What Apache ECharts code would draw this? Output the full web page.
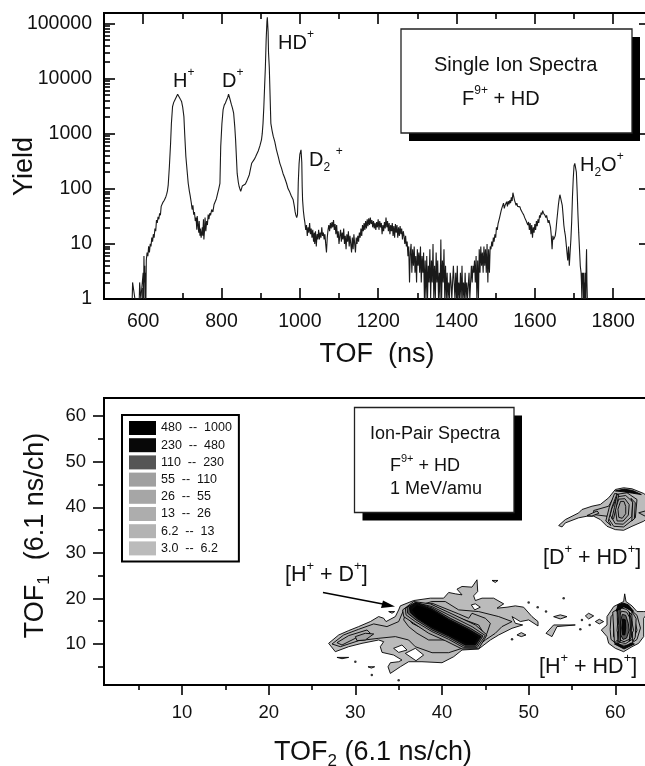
<!DOCTYPE html>
<html><head><meta charset="utf-8">
<script src="https://cdn.jsdelivr.net/npm/echarts@6/dist/echarts.min.js"></script>
<style>html,body{margin:0;padding:0;background:#fff}#c{width:645px;height:766px}</style>
</head><body><div id="c"></div>
<script>
// ---- Single ion spectrum (TOF ns, yield) ----
const tailRise = [[572,1],[573,2],[578,2],[579,1],[590,1],[591,2],[593,2],[594,1],[598,1],[600,3],[601,1],[602,6],[603,2],[604,4],[605,1],[606,3],[607,1],[608,5],[610,7],[612,6],[614,9],[616,7],[618,10],[620,9],[622,13],[624,11],[626,15],[628,13],[630,19],[632,17],[634,27],[636,24],[638,31],[640,28],[642,36],[644,33],[646,48],[648,52],[650,56],[652,54],[654,62],[656,66],[658,72],[660,80],[662,92]];
const peakHplus = [[664,118],[667,260],[670,670],[672,1500],[675,3090],[678,3700],[681,4100],[684,4400],[688,5200],[691,4800],[695,4200],[698,3850],[701,3000],[704,2040],[706,1000],[709,385],[712,220],[715,126],[718,90],[720,75],[723,55]];
const valleyHD = [[725,42],[727,50],[729,34],[731,38],[733,26],[735,30],[737,18],[738,32],[740,22],[742,16],[743,26],[745,14],[746,19],[748,13],[749,12],[751,20],[752,14],[754,28],[755,12],[757,19],[758,30],[760,17],[762,26],[764,22],[766,34],[768,28],[770,36],[772,33],[775,42],[778,38],[781,52],[784,50],[787,66],[790,82],[793,100],[796,126]];
const peakDplus = [[798,580],[801,1500],[804,2700],[807,3300],[810,3600],[813,4100],[816,4600],[818,5200],[821,4400],[825,3430],[828,2900],[831,2350],[834,1300],[836,770],[838,380],[840,190],[843,130],[845,110]];
const peakHDplus = [[847,102],[849,90],[851,100],[853,112],[855,105],[858,118],[861,122],[864,135],[868,145],[871,180],[874,230],[877,290],[880,310],[884,345],[887,380],[890,410],[894,490],[898,600],[902,770],[904,1000],[906,1540],[908,3000],[910,7000],[912,16000],[914,50000],[916,110000],[917,130000],[919,70000],[920,30000],[922,16000],[924,5000],[926,1540],[929,1150],[932,900],[936,720],[940,520],[945,380],[949,290],[953,240],[957,190],[961,160],[966,126],[970,100],[974,88],[978,75],[983,63],[986,48],[988,38],[990,33],[992,30],[994,34]];
const peakD2plus = [[995,60],[996,130],[998,280],[1000,420],[1003,510],[1005,300],[1006,110],[1007,63],[1009,40],[1011,30],[1013,24]];
const plateau = [[1015,18],[1017,22],[1019,14],[1021,20],[1023,16],[1025,24],[1027,15],[1029,19],[1031,13],[1033,18],[1035,11],[1037,16],[1038,10],[1040,17],[1042,9],[1044,15],[1046,12],[1048,18],[1050,12],[1052,16],[1054,13],[1056,20],[1058,14],[1060,16],[1062,12],[1064,15],[1066,10],[1068,7],[1070,13],[1072,18],[1074,22],[1076,17],[1078,24],[1080,19],[1082,25],[1084,20],[1086,27],[1088,18],[1090,23],[1092,15],[1094,22],[1096,13],[1098,17],[1100,10],[1102,14],[1104,18],[1106,11],[1108,16],[1110,12],[1112,19],[1114,10],[1116,14],[1118,8],[1120,15],[1122,11],[1124,17],[1126,9],[1128,14],[1130,10],[1132,7],[1134,13],[1136,8],[1138,15],[1140,10],[1142,7],[1144,13],[1146,10],[1148,14],[1150,11],[1152,16],[1154,13],[1156,19],[1158,14],[1160,22],[1162,17],[1164,24],[1166,18],[1168,26],[1170,19],[1172,28],[1174,21],[1176,29],[1178,22],[1180,30],[1182,23],[1184,27],[1186,20],[1188,26],[1190,19],[1192,24],[1194,18],[1196,25],[1198,20],[1200,28],[1202,18],[1204,26],[1206,20],[1208,24],[1210,15],[1212,22],[1214,17],[1216,25],[1218,19],[1220,30],[1222,20],[1224,26],[1226,17],[1228,24],[1230,15],[1232,22],[1234,17],[1236,24],[1238,14],[1240,21],[1242,13],[1244,23],[1246,16],[1248,22],[1250,13],[1252,20],[1254,14],[1256,21],[1258,15],[1260,19],[1262,12],[1264,17],[1266,14],[1268,10],[1270,14],[1272,9],[1274,11],[1276,6],[1278,9]];
const lowCounts = [[1280,2],[1282,7],[1284,10],[1286,3],[1288,8],[1290,4],[1292,9],[1294,3],[1296,6],[1298,2],[1300,8],[1302,4],[1304,7],[1306,3],[1308,9],[1310,2],[1312,6],[1314,3],[1316,7],[1318,1],[1320,5],[1322,1],[1324,6],[1326,1],[1328,4],[1330,2],[1332,8],[1334,1],[1336,5],[1338,2],[1340,10],[1342,1],[1344,4],[1346,1],[1348,7],[1350,2],[1352,5],[1354,1],[1356,3],[1358,1],[1360,12],[1362,1],[1364,5],[1366,2],[1368,8],[1370,1],[1372,4],[1374,1],[1376,3],[1378,1],[1380,2],[1382,1],[1384,3],[1386,2],[1388,1],[1390,1],[1392,4],[1394,2],[1396,1],[1398,3],[1400,1],[1402,4],[1404,1],[1406,2],[1408,1],[1410,3],[1412,1],[1414,4],[1416,1],[1418,2],[1420,1],[1422,3],[1424,1],[1426,2],[1428,1],[1430,1],[1432,3],[1434,1],[1436,2],[1438,4],[1440,2],[1442,4],[1444,3],[1446,5],[1448,2],[1450,6],[1452,1],[1454,5],[1456,1],[1458,8],[1460,3],[1462,9],[1464,4],[1466,7],[1468,3],[1470,9],[1472,4],[1474,8],[1476,3],[1478,10],[1480,2],[1482,8],[1484,3],[1486,9]];
const bumpHigh = [[1488,8],[1490,11],[1492,9],[1494,13],[1496,11],[1498,15],[1500,13],[1502,20],[1504,18],[1506,23],[1508,22],[1510,30],[1512,28],[1514,40],[1516,45],[1518,42],[1520,55],[1522,44],[1524,50],[1526,46],[1528,58],[1530,48],[1532,60],[1534,52],[1536,62],[1538,55],[1540,70],[1542,60],[1544,85],[1546,80],[1548,62],[1550,56],[1552,50],[1554,55],[1556,48],[1558,52],[1560,46],[1562,47],[1564,42],[1566,40],[1568,37],[1570,40],[1572,33],[1574,30],[1576,32],[1578,26],[1580,28],[1582,22],[1584,25],[1586,18],[1588,24],[1590,15],[1592,22],[1594,13],[1596,20],[1598,16],[1600,23],[1602,18],[1604,26],[1606,21],[1608,28],[1610,24],[1612,33],[1614,30],[1616,37],[1618,34],[1620,40],[1622,36],[1624,38],[1626,33],[1628,30],[1630,33],[1632,28],[1634,24],[1636,27],[1638,26],[1640,20],[1642,14],[1644,8],[1646,14],[1648,12],[1650,12],[1652,14]];
const peakH2O = [[1654,18],[1656,26],[1658,36],[1660,50],[1662,65],[1664,78],[1666,83],[1668,72],[1670,50],[1672,34],[1674,22],[1676,17],[1678,14],[1680,10],[1682,7],[1684,5],[1686,9],[1688,4],[1690,7],[1692,12],[1694,25],[1696,70],[1698,150],[1700,260],[1702,290],[1704,280],[1706,200],[1708,90],[1710,35],[1712,16],[1714,8],[1716,4],[1718,3],[1719,2],[1720,1],[1721,3],[1722,2],[1723,3],[1724,1],[1725,3],[1726,1],[1727,2],[1728,1],[1729,3],[1730,1],[1731,4],[1732,8],[1733,2],[1734,1]];

const tofMajorTicks = [600,800,1000,1200,1400,1600,1800];
const tofMinorTicks = [700,900,1100,1300,1500,1700];
const yieldMajorTicks = [1,10,100,1000,10000,100000];
const yieldMinorTicks = [2,3,4,5,6,7,8,9,20,30,40,50,60,70,80,90,200,300,400,500,600,700,800,900,2000,3000,4000,5000,6000,7000,8000,9000,20000,30000,40000,50000,60000,70000,80000,90000];

// ---- Ion pair map (TOF2 channel, TOF1 channel) ----
const tof2MajorTicks = [10,20,30,40,50,60];
const tof2MinorTicks = [5,15,25,35,45,55];
const tof1MajorTicks = [10,20,30,40,50,60];
const tof1MinorTicks = [5,15,25,35,45,55];

const levelNames = ['3.0  --  6.2','6.2  --  13','13  --  26','26  --  55','55  --  110','110  --  230','230  --  480','480  --  1000'];
const levelColors = ['#bbbbbb','#b3b3b3','#adadad','#a6a6a6','#a0a0a0','#555555','#080808','#000000'];

const level1 = [
 [[26.92,10.15],[28.08,11.98],[29.23,12.94],[30.38,13.82],[31.73,14.92],[32.69,16.02],[33.27,15.65],[33.54,14.92],[34.62,16.02],[35,17.49],[35.19,18.37],[36.73,19.54],[38.65,20.06],[40.19,20.06],[40.77,21.31],[41.54,21.01],[42.31,20.79],[41.73,22.04],[42.31,22.63],[43.46,22.48],[44.04,24.1],[44.12,21.53],[43.65,20.57],[43.85,19.54],[44.62,20.06],[45.96,20.06],[47.12,18.81],[46.35,17.86],[47.5,18.08],[48.46,18.37],[49.42,18.08],[50.38,16.02],[51.08,14.92],[51.08,13.96],[50,15.29],[49.04,14.92],[48.08,16.02],[48.46,14.55],[49.31,14.18],[48.08,13.45],[46.54,11.98],[45.58,10.88],[44.23,8.9],[42.31,8.68],[41.35,7.21],[40,5.89],[37.69,6.11],[36.15,6.11],[35.19,5],[34.04,3.54],[33.77,5],[34.04,5.89],[35,6.11],[35.38,6.48],[34.42,7.58],[33.08,8.16],[32.88,9.41],[33.27,10.51],[32.69,10.88],[30.77,10.15],[29.23,9.41],[27.69,8.31]],
 [[53.46,36],[54.23,37.31],[55.77,38.78],[56.15,39.52],[57.31,40.25],[58.27,40.63],[59.23,42.09],[60,43.92],[60.96,44.29],[61.92,44.07],[63.27,43.04],[64,42],[64,38],[63.27,36.95],[61.92,35.84],[60.96,34.96],[60,35.11],[59.04,35.84],[58.27,37.31],[57.5,38.05],[56.73,38.05],[55.77,37.7],[54.23,36.58],[53.85,35.7]],
 [[60.96,19.32],[61.08,21.01],[61.23,19.32],[61.92,18.37],[62.5,17.12],[63.27,17.12],[63.85,17.12],[63.27,15.65],[63.27,11.62],[62.69,10.15],[61.92,9.41],[60.96,8.31],[60,9.05],[59.23,10.15],[59.04,11.62],[58.38,13.08],[59.04,14.18],[59.04,16.02],[59.81,18.22]],
 [[52.88,16],[53.65,16.4],[54.42,16],[53.65,15.5]],
 [[56.54,16.17],[56.92,16.75],[57.5,16.17],[56.92,15.5]],
 [[57.69,14.92],[58.15,15.43],[58.65,14.92],[58.15,14.41]],
 [[52,12.35],[52.88,14.18],[55.38,14.18],[53.27,13.82],[52.69,11.62]],
 [[48.65,11.98],[49.15,12.5],[49.69,11.98],[49.15,11.62]],
 [[45.77,23.95],[46.46,23.95],[46.15,23.51]],
 [[27.88,7.06],[29.23,7.06],[28.46,6.77]],
 [[31.46,5],[32.23,5],[31.85,4.71]],
 [[33.85,17.12],[34.54,17.12],[34.23,16.75]]
];
const level2 = [
 [[27.31,10],[28.65,11.98],[30.38,13.23],[32.12,14.41],[33.65,13.82],[35,14.92],[35.58,17.49],[38.85,19.32],[40.38,19.32],[41.92,17.49],[44.23,17.12],[46.54,16.02],[48.08,14.92],[46.92,13.82],[46.15,12.35],[45,10.88],[43.85,9.05],[42.31,9.05],[40.77,8.09],[38.85,8.09],[36.92,9.41],[36.15,10.88],[34.62,11.62],[32.69,11.25],[30.38,10.73],[28.27,9.41]],
 [[57.5,39.3],[59.23,40.25],[60,42.82],[61.35,43.19],[62.5,41.72],[62.31,37.7],[60.96,35.7],[59.81,35.84],[59.04,38.05],[57.5,38.41]],
 [[56.73,38.2],[57.9,39.2],[58.1,38.7],[57.3,38.1]],
 [[60.5,18.3],[61.5,18],[62.5,16.3],[62.9,13.5],[62.5,11],[61.5,9.7],[60.3,9.8],[59.5,11],[59.4,13.2],[59.5,16]]
];
const level3 = [
 [[27.88,10.29],[29.23,11.84],[31.35,13.08],[31.73,12.35],[30,11.25],[28.46,9.78]],
 [[35.58,15.29],[35.77,16.75],[38.85,18.96],[41.92,16.61],[43.08,15.65],[43.46,16.75],[45,15.65],[45.58,14.55],[45.19,12.35],[44.42,10.51],[42.69,9.78],[40.38,10.88],[38.46,10.88],[37.12,12.35],[36.15,13.82]],
 [[59.6,39.7],[60.2,42.3],[61.2,42.6],[62,41.2],[61.9,38],[60.9,36.3],[60,36.4],[59.4,38.3]],
 [[58.9,37],[59.3,40],[59.9,43],[60.2,43],[59.6,40],[59.2,37],[59.5,36]],
 [[62.7,38.8],[64,39.5],[64,37.5]],
 [[60.7,17.9],[61.3,17.6],[62.2,15.8],[62.5,13],[62.1,11.2],[61.2,10.1],[60.4,10.4],[59.8,11.6],[59.8,14],[60,16.2]]
];
const level4 = [
 [[30,11.62],[31.15,12.35],[32.12,12.2],[31.15,10.88],[30.19,10.73]],
 [[35.96,16.02],[38.85,18.59],[41.54,16.02],[44.23,14.18],[44.81,12.35],[43.08,9.78],[40.77,11.62],[38.08,13.08],[36.54,14.55]],
 [[60,39.6],[60.4,41.8],[61.1,41.9],[61.6,40.6],[61.5,38.3],[60.9,37],[60.2,37]],
 [[59.7,17],[60.2,17.6],[60.3,11],[59.9,10.2]],
 [[61.9,17.2],[62.4,15.6],[62.3,11.5],[62,10.5]]
];
const level5 = [
 [[35.46,17.49],[36.73,19.32],[38.65,18.81],[41.15,16.61],[43.85,14.18],[45.19,11.98],[44.23,8.97],[42.31,8.9],[40.38,10.73],[38.46,12.35],[36.73,14.55],[35.58,16.02]],
 [[35.77,17.86],[36.92,19.1],[38.85,18.22],[41.15,16.02],[43.46,13.82],[45,11.84],[44.04,9.19],[42.5,9.19],[40.77,11.03],[38.85,12.72],[36.92,14.92],[35.85,16.39]],
 [[60.3,39.6],[60.6,41.3],[61,41.3],[61.2,40.2],[61.2,38.6],[60.8,37.6],[60.4,37.8]],
 [[59.6,37.5],[59.9,40],[60.2,42.8],[60.4,42.8],[60.1,40],[59.8,37.5]],
 [[61.8,42],[62.3,41],[62.2,37.5],[61.9,37],[62,41]],
 [[60.7,17.2],[61.3,17],[61.9,15],[62.1,13],[61.6,11],[61,10.5],[60.4,11],[60.2,13],[60.3,15.5]]
];
const level6 = [
 [[35.96,18.08],[37,19.1],[38.85,17.93],[40.96,15.65],[43.27,13.45],[44.73,11.76],[43.96,9.49],[42.58,9.49],[40.77,11.4],[38.85,13.08],[37,15.29],[36.04,16.75]],
 [[60.8,16.5],[61.2,16.3],[61.5,14.5],[61.6,13],[61.3,11.3],[60.9,11],[60.6,12],[60.5,14]],
 [[60.25,17.5],[60.55,17.8],[60.6,10.6],[60.3,10.4],[60.4,14]],
 [[61.6,17],[61.85,15.5],[61.85,11.5],[61.6,10.6],[61.75,13.5]]
];
const level7 = [
 [[36.23,18.08],[37,18.96],[38.85,17.64],[40.77,15.43],[43.08,13.23],[44.5,11.62],[43.85,9.78],[42.69,9.78],[40.77,11.76],[38.85,13.45],[37.12,15.58],[36.35,16.9]],
 [[60.85,15.5],[61.15,15.3],[61.2,13.5],[61.1,12],[60.85,12],[60.75,13.5]],
 [[60.3,18.6],[60.9,19],[61.5,18.6],[62.1,17.2],[61.9,17.2],[61,18.2],[60.1,17.2]],
 [[59.9,10],[61,8.9],[62.2,10],[61.8,10.2],[61,9.4],[60.2,10.3]],
 [[60,43.6],[61,44],[62,43.7],[63,42.8],[62,43.1],[61,43.4]]
];
const level8 = [
 [[36.6,17.5],[37.1,18.4],[38.9,17.2],[40.8,15],[43,12.9],[44.1,11.5],[43.7,10.1],[42.8,10.2],[40.8,12.1],[38.9,13.8],[37.2,15.8]]
];
const emptyCells = [
 [[34.42,9.05],[35.38,9.78],[35.96,8.68],[35,8.16]],
 [[35.77,7.94],[36.92,9.05],[37.88,7.58],[37,6.33]],
 [[43.38,18.59],[43.85,18.81],[44.42,18.08],[43.77,17.49]]
];
const isolatedCounts = [[30,6.1],[31.9,3.2],[35,2.07],[54.04,20.06],[50,19.1],[51.04,18.08],[52,17.12],[48.08,11.03],[56.15,15.29],[55.96,13.23],[57.04,14.18]];

const FONT = '"Liberation Sans", Arial, sans-serif';
const spectrum = [].concat(tailRise,peakHplus,valleyHD,peakDplus,peakHDplus,peakD2plus,plateau,lowCounts,bumpHigh,peakH2O);
const levels = [level1,level2,level3,level4,level5,level6,level7,level8];

function rich(size){
  const sup = Math.round(size*0.62);
  return {
    n:{fontSize:size,fontFamily:FONT,lineHeight:size+8,fill:'#111',color:'#111'},
    u:{fontSize:sup,fontFamily:FONT,lineHeight:sup,verticalAlign:'top',color:'#111',fill:'#111'},
    d:{fontSize:sup,fontFamily:FONT,lineHeight:sup,verticalAlign:'bottom',color:'#111',fill:'#111'}
  };
}
function label(x,y,text,size){
  return {type:'text',x:x,y:y,z:101,style:{text:text,rich:rich(size),fill:'#111',font:size+'px '+FONT}};
}
function box(l,t,r,b,off){
  return [
    {type:'rect',z:99,shape:{x:l+off,y:t+off,width:r-l,height:b-t},style:{fill:'#000'}},
    {type:'rect',z:100,shape:{x:l,y:t,width:r-l,height:b-t},style:{fill:'#fff',stroke:'#222',lineWidth:1.3}}
  ];
}
const plain = v=>String(Math.round(v));
function xAxis(gridIndex,pos,min,max,ticks,len,inside,labels,extra){
  return Object.assign({type:'value',gridIndex,position:pos,min,max,scale:true,splitLine:{show:false},
    axisLine:{show:false},
    axisTick:{show:true,inside,length:len,customValues:ticks,lineStyle:{color:'#000',width:1.6}},
    axisLabel:labels?{show:true,customValues:labels.values,margin:labels.margin,fontSize:labels.size,fontFamily:FONT,color:'#111',formatter:plain,hideOverlap:false}:{show:false}},extra||{});
}
function yAxis(gridIndex,pos,type,min,max,ticks,len,inside,labels,extra){
  return Object.assign({type,gridIndex,position:pos,min,max,splitLine:{show:false},
    axisLine:{show:false},
    axisTick:{show:true,inside,length:len,customValues:ticks,lineStyle:{color:'#000',width:1.6}},
    axisLabel:labels?{show:true,customValues:labels.values,margin:labels.margin,fontSize:labels.size,fontFamily:FONT,color:'#111',formatter:plain,hideOverlap:false}:{show:false}},extra||{});
}
function contourSeries(name,polys,color){
  return {name,type:'custom',xAxisIndex:4,yAxisIndex:4,coordinateSystem:'cartesian2d',silent:true,clip:false,
    itemStyle:{color},
    data:polys.map((p,i)=>[p[0][0],p[0][1],i]),
    encode:{x:0,y:1},
    renderItem:(params,api)=>({type:'polygon',shape:{points:polys[params.dataIndex].map(q=>api.coord(q))},
      style:{fill:color,stroke:'#000',lineWidth:0.9}})};
}
const series = [
  {type:'line',name:'spectrum',data:spectrum,xAxisIndex:0,yAxisIndex:0,showSymbol:false,silent:true,
   lineStyle:{color:'#1a1a1a',width:1.1},clip:true}
];
levels.forEach((l,i)=>series.push(contourSeries(levelNames[i],l,levelColors[i])));
series.push(contourSeries('empty cells',emptyCells,'#ffffff'));
series.push({type:'scatter',name:'isolated counts',xAxisIndex:4,yAxisIndex:4,data:isolatedCounts,symbolSize:2.5,silent:true,itemStyle:{color:'#000'}});

const option = {
  animation:false,
  backgroundColor:'#fff',
  textStyle:{fontFamily:FONT},
  legend:{left:122,top:415,orient:'vertical',icon:'rect',itemWidth:27,itemHeight:14,itemGap:3.2,
    padding:[6,7,6,7],borderColor:'#000',borderWidth:2,backgroundColor:'#fff',selectedMode:false,z:50,
    textStyle:{fontSize:12.5,fontFamily:FONT,color:'#111'},
    data:levelNames.slice().reverse()},
  grid:[
    {left:104,top:13,width:546,height:286,show:true,borderColor:'#000',borderWidth:2,backgroundColor:'#fff',outerBoundsMode:'none'},
    {left:104,top:398,width:546,height:287,show:true,borderColor:'#000',borderWidth:2,backgroundColor:'#fff',outerBoundsMode:'none'}
  ],
  xAxis:[
    xAxis(0,'bottom',500,1894,tofMajorTicks,11,true,{values:tofMajorTicks,margin:13,size:19.5},{name:'TOF  (ns)',nameLocation:'middle',nameGap:42,nameMoveOverlap:false,nameTextStyle:{fontSize:27,fontFamily:FONT,color:'#111'}}),
    xAxis(0,'bottom',500,1894,tofMinorTicks,6,true),
    xAxis(0,'top',500,1894,tofMajorTicks,11,true),
    xAxis(0,'top',500,1894,tofMinorTicks,6,true),
    xAxis(1,'bottom',1,64,tof2MajorTicks,10,false,{values:tof2MajorTicks,margin:18,size:18.5},{name:'{n|TOF}{d|2}{n| (6.1 ns/ch)}',nameLocation:'middle',nameGap:50,nameMoveOverlap:false,nameTextStyle:{rich:rich(27),padding:[0,8,0,0],fontSize:27}}),
    xAxis(1,'bottom',1,64,tof2MinorTicks,5,false)
  ],
  yAxis:[
    yAxis(0,'left','log',1,155000,yieldMajorTicks,11,true,{values:yieldMajorTicks,margin:12,size:19.5},{name:'Yield',nameLocation:'middle',nameGap:66,nameMoveOverlap:false,nameTextStyle:{fontSize:27,fontFamily:FONT,color:'#111',padding:[0,21,0,0]}}),
    yAxis(0,'left','log',1,155000,yieldMinorTicks,6,true),
    yAxis(0,'right','log',1,155000,yieldMajorTicks,11,true),
    yAxis(0,'right','log',1,155000,yieldMinorTicks,5,true),
    yAxis(1,'left','value',1,64,tof1MajorTicks,11,false,{values:tof1MajorTicks,margin:18,size:18.5},{name:'{n|TOF}{d|1}{n|  (6.1 ns/ch)}',nameLocation:'middle',nameGap:51,nameMoveOverlap:false,nameTextStyle:{rich:rich(27),padding:[0,0,0,12],fontSize:27}}),
    yAxis(1,'left','value',1,64,tof1MinorTicks,6,false)
  ],
  series,
  graphic:{elements:[
    ...box(401,29,632,133,8),
    label(434,51,'{n|Single Ion Spectra}',20),
    label(462,85,'{n|F}{u|9+}{n| + HD}',20),
    label(173,67,'{n|H}{u|+}',20),
    label(222,67,'{n|D}{u|+}',20),
    label(278,29,'{n|HD}{u|+}',20),
    label(309,146,'{n|D}{d|2}{n| }{u|+}',20),
    label(580,151,'{n|H}{d|2}{n|O}{u|+}',20),
    ...box(354.5,407.5,514,512.5,8),
    label(370,421,'{n|Ion-Pair Spectra}',18),
    label(390,453,'{n|F}{u|9+}{n| + HD}',18),
    label(390,476,'{n|1 MeV/amu}',18),
    label(285,560,'{n|[H}{u|+}{n| + D}{u|+}{n|]}',21.5),
    label(543,543,'{n|[D}{u|+}{n| + HD}{u|+}{n|]}',21.5),
    label(539,652,'{n|[H}{u|+}{n| + HD}{u|+}{n|]}',21.5),
    {type:'line',z:101,shape:{x1:323,y1:592.5,x2:388,y2:605},style:{stroke:'#000',lineWidth:1.5}},
    {type:'polygon',z:101,shape:{points:[[395,606.5],[381,608],[383,600.5]]},style:{fill:'#000'}}
  ]}
};
const chart = echarts.init(document.getElementById('c'),null,{renderer:'canvas'});
chart.setOption(option);
</script>
</body></html>
